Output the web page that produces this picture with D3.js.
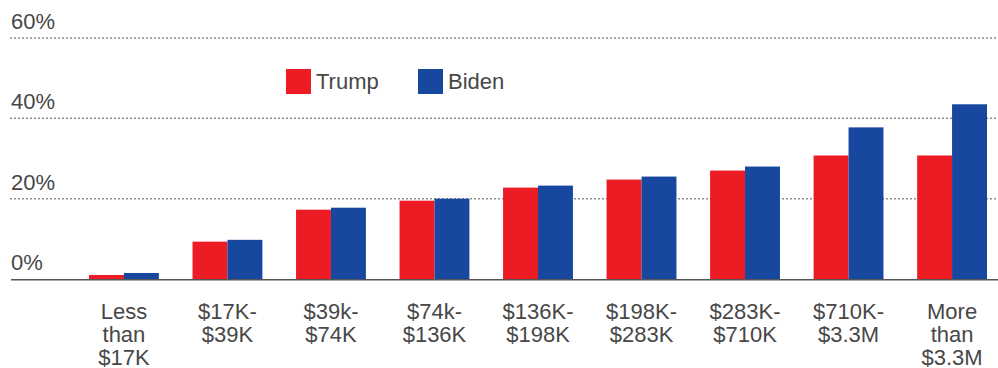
<!DOCTYPE html>
<html>
<head>
<meta charset="utf-8">
<script src="https://cdn.jsdelivr.net/npm/d3@7"></script>
<style>
  html, body { margin: 0; padding: 0; background: #fff; }
  svg text { font-family: "Liberation Sans", "Helvetica Neue", Arial, sans-serif; fill: #474747; }
</style>
</head>
<body>
<svg id="chart" width="998" height="368"></svg>
<script>
  // ============================================================
  // Data
  // ============================================================

  const categories = [
    ["Less", "than", "$17K"],
    ["$17K-", "$39K"],
    ["$39k-", "$74K"],
    ["$74k-", "$136K"],
    ["$136K-", "$198K"],
    ["$198K-", "$283K"],
    ["$283K-", "$710K"],
    ["$710K-", "$3.3M"],
    ["More", "than", "$3.3M"]
  ];
  const trump = [1.0, 9.3, 17.25, 19.5, 22.75, 24.75, 27.0, 30.75, 30.75];
  const biden = [1.5, 9.75, 17.75, 20.0, 23.25, 25.5, 28.0, 37.75, 43.5];
  const seriesNames = ["Trump", "Biden"];
  const seriesColors = ["#ed1c24", "#17479e"];
  const yTicks = [0, 20, 40, 60];

  // ============================================================
  // Layout
  // ============================================================

  const svg = d3.select("#chart");
  const W = +svg.attr("width");

  const y = d3.scaleLinear().domain([0, 60]).range([279, 38]);

  const x = d3.scaleBand()
    .domain(d3.range(categories.length))
    .range([89, 987])
    .paddingInner(0.325)
    .paddingOuter(0);

  const xs = d3.scaleBand()
    .domain(seriesNames)
    .range([0, x.bandwidth()]);

  // gridlines + tick labels
  const grid = svg.append("g");
  yTicks.filter(t => t > 0).forEach(t => {
    grid.append("line")
      .attr("x1", 10).attr("x2", W)
      .attr("y1", y(t)).attr("y2", y(t))
      .attr("stroke", "#8c8c8c")
      .attr("stroke-width", 1.5)
      .attr("stroke-dasharray", "2,2");
  });
  grid.selectAll("text")
    .data(yTicks)
    .enter().append("text")
    .attr("x", 11)
    .attr("y", d => y(d) - 9)
    .attr("font-size", 22)
    .text(d => d + "%");

  // bars
  const rows = categories.map((c, i) => ({ i, values: [trump[i], biden[i]] }));
  const groups = svg.append("g").selectAll("g")
    .data(rows)
    .enter().append("g")
    .attr("transform", d => `translate(${x(d.i)},0)`);

  groups.selectAll("rect")
    .data(d => d.values.map((v, k) => ({ v, k })))
    .enter().append("rect")
    .attr("x", d => xs(seriesNames[d.k]))
    .attr("width", xs.bandwidth())
    .attr("y", d => y(d.v))
    .attr("height", d => y(0) - y(d.v))
    .attr("fill", d => seriesColors[d.k]);

  // baseline
  svg.append("line")
    .attr("x1", 11).attr("x2", W)
    .attr("y1", y(0) + 0.75).attr("y2", y(0) + 0.75)
    .attr("stroke", "#555")
    .attr("stroke-width", 1.5);

  // category labels
  const labels = svg.append("g").selectAll("text")
    .data(categories)
    .enter().append("text")
    .attr("text-anchor", "middle")
    .attr("font-size", 22)
    .attr("x", (d, i) => x(i) + x.bandwidth() / 2)
    .attr("y", 319);
  labels.selectAll("tspan")
    .data(d => d)
    .enter().append("tspan")
    .attr("x", function () { return d3.select(this.parentNode).attr("x"); })
    .attr("dy", (d, i) => i === 0 ? 0 : 23)
    .text(d => d);

  // legend
  const legendX = [286, 418];
  const legend = svg.append("g").selectAll("g")
    .data(seriesNames)
    .enter().append("g")
    .attr("transform", (d, i) => `translate(${legendX[i]},69)`);
  legend.append("rect")
    .attr("width", 25).attr("height", 25)
    .attr("fill", (d, i) => seriesColors[i]);
  legend.append("text")
    .attr("x", 30).attr("y", 20)
    .attr("font-size", 22)
    .text(d => d);
</script>
</body>
</html>
